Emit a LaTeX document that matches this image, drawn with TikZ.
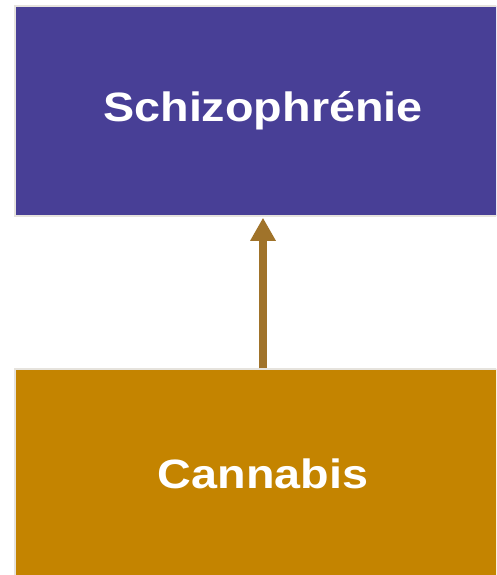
\documentclass[tikz,border=0pt]{standalone}
\usepackage{fontspec}
\setmainfont{Liberation Sans}
\newfontfamily\boxfont[FakeStretch=1.14]{Liberation Sans}
\usetikzlibrary{arrows.meta}
\definecolor{schizoblue}{HTML}{483F96}
\definecolor{cannagold}{HTML}{C48400}
\definecolor{arrowbrown}{HTML}{A0732A}
\definecolor{edgegray}{HTML}{E6E3DD}

\begin{document}
\begin{tikzpicture}[
    x=1pt, y=-1pt,
    %% ── Node styles ─────────────────────────────────────────────
    topbox/.style ={draw=edgegray, line width=1.5pt, fill=schizoblue,
                    minimum width=496pt, minimum height=210pt,
                    text=white, font=\boxfont\fontsize{41}{45}\selectfont\bfseries},
    basebox/.style={draw=edgegray, line width=1.5pt, fill=cannagold,
                    minimum width=496pt, minimum height=210pt,
                    text=white, font=\boxfont\fontsize{41}{45}\selectfont\bfseries},
    arr/.style    ={-{Triangle[length=23pt, width=24pt]}, line width=8pt,
                    color=arrowbrown, shorten >=1pt}
]
    \clip (0,0) rectangle (496,575);
    \fill[white] (0,0) rectangle (496,575);

    %% ── Nodes ──────────────────────────────────────────────────
    \node[topbox]  (schizo)   at (263, 111) {Schizophrénie};
    \node[basebox] (cannabis) at (263, 474) {Cannabis};

    %% ── Arrows ──────────────────────────────────────────────────
    \draw[arr] (cannabis.north) -- (schizo.south);

\end{tikzpicture}
\end{document}
